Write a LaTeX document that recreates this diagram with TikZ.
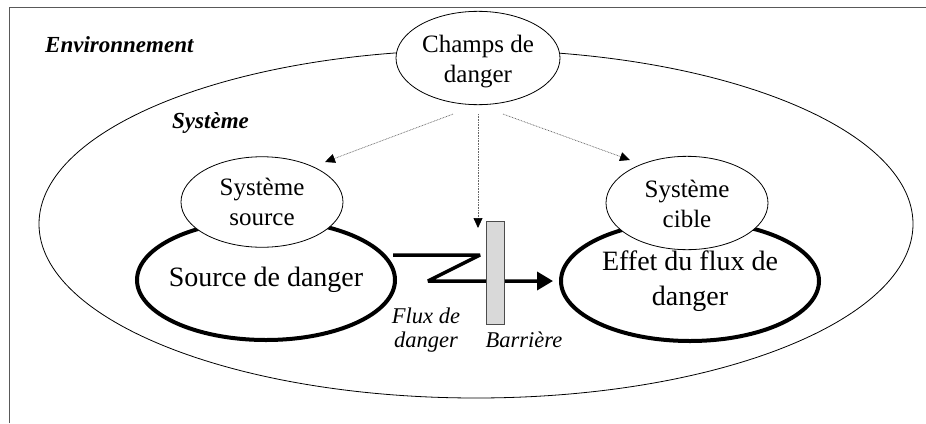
\documentclass[tikz,border=0pt]{standalone}
\usepackage{fontspec}
\setmainfont{Liberation Serif}
\usetikzlibrary{arrows.meta,shapes.geometric}
\newcommand\twolines[3]{\makebox[0pt]{\begin{tabular}{@{}c@{}}\rule{0pt}{#1}#2\\#3\end{tabular}}}
\begin{document}
\begin{tikzpicture}[x=1pt,y=-1pt,
  thinell/.style={ellipse, draw, line width=0.8pt, fill=white, inner sep=0pt,
     minimum width=162pt, minimum height=88pt, font=\fontsize{25}{30}\selectfont},
  thickell/.style={ellipse, draw, line width=4pt, inner sep=0pt,
     minimum width=258pt, minimum height=120pt, font=\fontsize{28}{35}\selectfont},
  lbl/.style={font=\fontsize{22.5}{24}\selectfont\itshape, align=center, inner sep=0pt},
  biglbl/.style={font=\fontsize{23}{26}\selectfont\bfseries\itshape, inner sep=0pt},
  dotarrow/.style={line width=0.7pt, gray!80!black, dash pattern=on 0.8pt off 0.8pt,
     -{Triangle[length=10pt,width=9pt,color=black]}},
  fluxarrow/.style={line width=3.5pt, line join=bevel, -{Triangle[length=16pt,width=18pt]}},
  framestyle/.style={gray!70!black, line width=1pt}
]
\useasboundingbox (0,0) rectangle (926,423);
% frame
\draw[framestyle] (9,423) -- (9,7) -- (926,7);
% system ellipse
\node[ellipse, draw, line width=0.8pt, inner sep=0pt, minimum width=874pt, minimum height=348pt] (sys) at (476,224) {};
% field of danger
\node[thinell, minimum width=164pt, minimum height=86pt] (champ) at (478,58) {\twolines{27pt}{Champs de}{danger}};
% thick ellipses
\node[thickell] (src) at (266,280) {\makebox[0pt]{Source de danger}};
\node[thickell] (eff) at (690,281) {\twolines{24.5pt}{Effet du flux de}{danger}};
% small ellipses
\node[thinell] (ss) at (262,202) {\twolines{25pt}{Système}{source}};
\node[thinell] (sc) at (687,203) {\twolines{27pt}{Système}{cible}};
% dotted arrows
\coordinate (t1) at (325,162);
\coordinate (t2) at (478,228);
\coordinate (t3) at (630,160);
\draw[dotarrow] ([shift={(-25,9)}]champ.south) -- (t1);
\draw[dotarrow] ([shift={(0,9)}]champ.south) -- (t2);
\draw[dotarrow] ([shift={(25,9)}]champ.south) -- (t3);
% flux arrow
\coordinate (z1) at (393,255);
\coordinate (z2) at (480,255);
\coordinate (z3) at (428,281);
\draw[fluxarrow, shorten >=6pt] (z1) -- (z2) -- (z3) -- (eff.west);
% barrier
\node[draw=gray!60!black, fill=gray!30, line width=0.8pt, inner sep=0pt,
      minimum width=18pt, minimum height=103pt] (bar) at (495,272.5) {};
% labels
\node[biglbl, anchor=base west] (env) at (45,52) {Environnement};
\node[biglbl, anchor=base west] (syslbl) at (172,128) {Système};
\node[lbl] (fluxlbl) at (426,330) {Flux de\\danger};
\node[lbl, anchor=base] (barlbl) at (524,347) {Barrière};
\end{tikzpicture}
\end{document}
